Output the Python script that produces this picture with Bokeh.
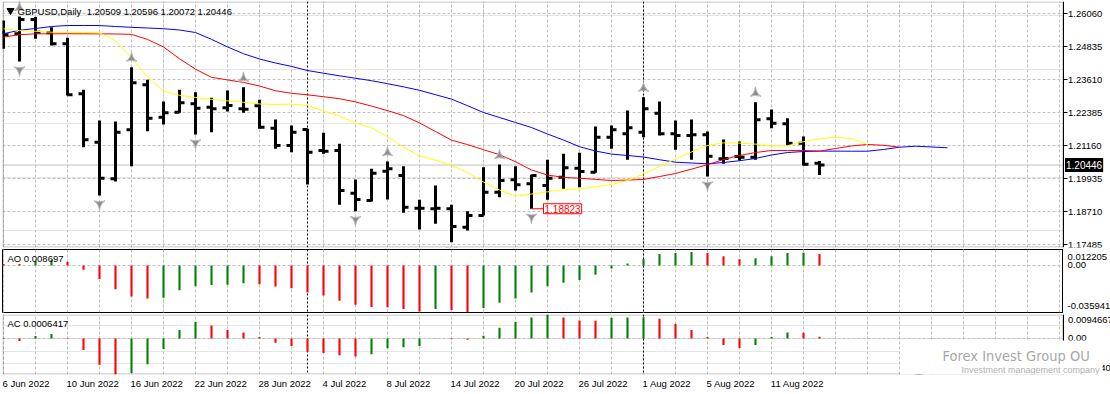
import numpy as np
from bokeh.plotting import figure
from bokeh.layouts import column
from bokeh.models import (ColumnDataSource, FixedTicker, PrintfTickFormatter, Span, Label,
                          Grid, BoxAnnotation, Range1d, LinearAxis)
from bokeh.embed import file_html
from bokeh.resources import INLINE

# ---------------- data ----------------
DATES = ["6 Jun 2022", "10 Jun 2022", "16 Jun 2022", "22 Jun 2022", "28 Jun 2022",
         "4 Jul 2022", "8 Jul 2022", "14 Jul 2022", "20 Jul 2022", "26 Jul 2022",
         "1 Aug 2022", "5 Aug 2022", "11 Aug 2022"]
DATE_BARS = [0, 4, 8, 12, 16, 20, 24, 28, 32, 36, 40, 44, 48]
SEPARATORS = [19, 40]          # 1 Jul 2022, 1 Aug 2022

OPEN = [1.25366, 1.25316, 1.25848, 1.25353, 1.24945, 1.23089, 1.21295, 1.19934, 1.21753, 1.23423,
        1.22223, 1.22408, 1.22718, 1.22594, 1.22569, 1.22532, 1.22643, 1.21814, 1.21171, 1.21765,
        1.20985, 1.20985, 1.19402, 1.19129, 1.20218, 1.20057, 1.18845, 1.18820, 1.18820, 1.18139,
        1.18573, 1.19439, 1.19896, 1.19748, 1.19686, 1.19995, 1.20330, 1.20181, 1.21480, 1.21604,
        1.21666, 1.22371, 1.21604, 1.21542, 1.21567, 1.20676, 1.20763, 1.20738, 1.22161, 1.21975,
        1.21258, 1.20509]
HIGH = [1.25811, 1.25960, 1.25940, 1.25564, 1.25168, 1.23237, 1.22099, 1.22062, 1.24079, 1.23609,
        1.22804, 1.23237, 1.23151, 1.22940, 1.23213, 1.23336, 1.22866, 1.22136, 1.21913, 1.21790,
        1.21641, 1.21233, 1.19909, 1.20305, 1.20577, 1.20404, 1.19154, 1.19686, 1.18968, 1.18733,
        1.20367, 1.20466, 1.20404, 1.20082, 1.20639, 1.20862, 1.20899, 1.21876, 1.21913, 1.22470,
        1.22965, 1.22804, 1.22099, 1.22136, 1.21691, 1.21394, 1.21319, 1.22780, 1.22507, 1.22186,
        1.21505, 1.20596]
LOW = [1.24759, 1.24289, 1.25131, 1.24883, 1.23027, 1.21109, 1.19315, 1.19835, 1.20404, 1.21703,
       1.21951, 1.22384, 1.21579, 1.21666, 1.22433, 1.22384, 1.21790, 1.21047, 1.20924, 1.19723,
       1.20862, 1.18968, 1.18733, 1.19092, 1.19166, 1.18671, 1.18053, 1.18263, 1.17583, 1.18016,
       1.18573, 1.19253, 1.19500, 1.18823, 1.19154, 1.19562, 1.19624, 1.20156, 1.21047, 1.20639,
       1.21480, 1.21542, 1.21010, 1.20639, 1.20020, 1.20490, 1.20614, 1.20639, 1.21814, 1.21171,
       1.20429, 1.20072]
CLOSE = [1.25279, 1.25848, 1.25378, 1.24945, 1.23052, 1.21381, 1.19958, 1.21666, 1.23497, 1.22186,
         1.22384, 1.22755, 1.22557, 1.22532, 1.22656, 1.22520, 1.21852, 1.21171, 1.21666, 1.20924,
         1.20961, 1.19500, 1.19166, 1.20144, 1.20305, 1.18882, 1.18840, 1.18845, 1.18164, 1.18573,
         1.19439, 1.19872, 1.19711, 1.20057, 1.19958, 1.20342, 1.20206, 1.21480, 1.21753, 1.21827,
         1.22532, 1.21604, 1.21542, 1.21567, 1.20775, 1.20690, 1.20738, 1.22124, 1.22000, 1.21258,
         1.20480, 1.20446]

JAW_BLUE = [1.25321, 1.25451, 1.25514, 1.25589, 1.25626, 1.25626, 1.25624, 1.25589, 1.25559, 1.25533,
            1.25507, 1.25459, 1.25366, 1.25113, 1.24831, 1.24579, 1.24382, 1.24234, 1.24107, 1.23955,
            1.23855, 1.23758, 1.23669, 1.23577, 1.23465, 1.23350, 1.23220, 1.23057, 1.22894, 1.22649,
            1.22396, 1.22211, 1.22025, 1.21839, 1.21598, 1.21375, 1.21127, 1.20967, 1.20852, 1.20800,
            1.20744, 1.20644, 1.20551, 1.20522, 1.20492, 1.20540, 1.20607, 1.20689, 1.20819, 1.20911,
            1.20948, 1.20963, 1.20963, 1.20960, 1.20960, 1.21023, 1.21108, 1.21145, 1.21116, 1.21086]
TEETH_RED = [1.25195, 1.25284, 1.25318, 1.25318, 1.25320, 1.25318, 1.25315, 1.25312, 1.25295, 1.25110,
             1.24828, 1.24393, 1.24004, 1.23703, 1.23606, 1.23514, 1.23380, 1.23205, 1.23109, 1.23053,
             1.22983, 1.22908, 1.22790, 1.22634, 1.22467, 1.22281, 1.22010, 1.21691, 1.21372, 1.21205,
             1.21015, 1.20830, 1.20570, 1.20262, 1.20076, 1.19987, 1.19957, 1.19913, 1.19872, 1.19887,
             1.19913, 1.20020, 1.20132, 1.20295, 1.20458, 1.20651, 1.20800, 1.20911, 1.20986, 1.20984,
             1.20988, 1.20960, 1.21060, 1.21156, 1.21208, 1.21179, 1.21108]
LIPS_YELLOW = [1.25503, 1.25436, 1.25410, 1.25377, 1.25375, 1.25366, 1.25355, 1.25069, 1.24416, 1.23721,
               1.23194, 1.23035, 1.22953, 1.22886, 1.22827, 1.22778, 1.22715, 1.22693, 1.22708, 1.22652,
               1.22459, 1.22270, 1.22003, 1.21828, 1.21498, 1.21116, 1.20781, 1.20626, 1.20440, 1.20165,
               1.19816, 1.19523, 1.19285, 1.19371, 1.19452, 1.19530, 1.19564, 1.19634, 1.19723, 1.19872,
               1.20113, 1.20392, 1.20666, 1.20934, 1.21171, 1.21268, 1.21260, 1.21223, 1.21153, 1.21160,
               1.21312, 1.21416, 1.21479, 1.21431, 1.21208]

UP_FRACTALS = [1, 8, 15, 24, 31, 40, 47]
DOWN_FRACTALS = [1, 6, 12, 22, 28, 33, 44]

AO = [0.0012, 0.0011, 0.0034, 0.0042, 0.0029, -0.0032, -0.0103, -0.0182, -0.0238, -0.0253,
      -0.0246, -0.0190, -0.0158, -0.0150, -0.0147, -0.0135, -0.0143, -0.0161, -0.0174, -0.0206,
      -0.0230, -0.0269, -0.0301, -0.0317, -0.0319, -0.0333, -0.0352, -0.0333, -0.0341, -0.035941,
      -0.0325, -0.0285, -0.0253, -0.0206, -0.0158, -0.0132, -0.0111, -0.0071, -0.0024, 0.0016,
      0.0048, 0.0087, 0.0095, 0.0103, 0.0095, 0.0071, 0.0048, 0.0055, 0.0071, 0.0095,
      0.0097, 0.008697]
AC = [0.0002, -0.0010, 0.0010, 0.0018, 0.0002, -0.0046, -0.0104, -0.01424, -0.0136, -0.0102,
      -0.0042, 0.0033, 0.0065, 0.0051, 0.0033, 0.0024, 0.0006, -0.0017, -0.0030, -0.0053,
      -0.0057, -0.0066, -0.0071, -0.0062, -0.0039, -0.0035, -0.0030, -0.0001, -0.0003, -0.0005,
      0.0011, 0.0042, 0.0065, 0.0083, 0.0094667, 0.0083, 0.0071, 0.0070, 0.0082, 0.0083,
      0.0084, 0.0078, 0.0057, 0.0033, 0.0006, -0.0026, -0.0038, -0.0026, 0.0006, 0.0024,
      0.0023, 0.0006417]

PRICE_TICKS = [1.26060, 1.24835, 1.23610, 1.22385, 1.21160, 1.19935, 1.18710, 1.17485]
AO_MAX, AO_MIN = 0.012205, -0.035941
AC_MAX, AC_MIN = 0.0094667, -0.01424
LAST_PRICE = 1.20446
LOW_MARK_BAR, LOW_MARK_PRICE = 33, 1.18823
HEADER = "GBPUSD,Daily\u00a0 1.20509 1.20596 1.20072 1.20446"
AO_TITLE = "AO 0.008697"
AC_TITLE = "AC 0.0006417"
BRAND = "Forex Invest Group OU"
BRAND_SUB = "Investment management company"

# ---------------- layout / style ----------------
FONT = "Liberation Sans"
FS = "9.5px"
GRID_C = "#c0c0c0"
GRID_D = "3 2"
LEFT = 2                 # frame left edge (px)
EDGE = 1062              # right border of the chart panels (px)
FW = EDGE - LEFT         # normal frame width
FW_EXT = 1110 - LEFT     # frame that also holds the price scale
S = 16.0                 # px per bar
X0 = -1 / S
XE = X0 + (EDGE - LEFT + 0.5) / S      # right border location in bar units
MAIN_TOP, MAIN_H = 1, 246
AO_TOP_PX, AO_H = 249, 63
AC_TOP_PX, AC_H = 314, 60
Y0, Y1 = 1.17385, 1.26517
YS = MAIN_H / (Y1 - Y0)
AOS = AO_H / (AO_MAX - AO_MIN)
ACS = AC_H / (AC_MAX - AC_MIN)
GREEN, RED = "#008000", "#ff0000"
GRID_BARS = list(range(0, 68, 2))


def dx(px):               # page px -> bar units
    return X0 + (px - LEFT) / S


def main_y(py):
    return Y1 - (py - MAIN_TOP) / YS


def ao_y(py):
    return AO_MAX - (py - AO_TOP_PX) / AOS


def ac_y(py):
    return AC_MAX - (py - AC_TOP_PX) / ACS


def style_axis(ax, tick_out, standoff):
    ax.axis_line_color = "black"
    ax.major_tick_line_color = "black"
    ax.major_tick_out = tick_out
    ax.major_tick_in = 0
    ax.minor_tick_out = 0
    ax.minor_tick_in = 0
    ax.major_label_text_font = FONT
    ax.major_label_text_font_size = FS
    ax.major_label_text_color = "black"
    ax.major_label_standoff = standoff


def panel(fh, y0, y1, ys, top, bottom, extended, xaxis, ticks, overrides, tick_out, standoff,
          grid_ticks):
    fw = FW_EXT if extended else FW
    f = figure(frame_width=fw, frame_height=fh, x_range=Range1d(X0, X0 + fw / S),
               y_range=Range1d(y0, y1),
               x_axis_location="below" if xaxis else None,
               y_axis_location=None if extended else "right",
               toolbar_location=None, tools="", output_backend="svg",
               min_border_left=LEFT, min_border_right=0 if extended else 48,
               min_border_top=top, min_border_bottom=bottom,
               background_fill_color="white", border_fill_color="white")
    if xaxis:
        f.xgrid.visible = False
    f.add_layout(Grid(dimension=0, ticker=FixedTicker(ticks=GRID_BARS),
                      grid_line_color=GRID_C, grid_line_dash=GRID_D))
    if extended:
        f.outline_line_color = None
        f.add_layout(Grid(dimension=1, ticker=FixedTicker(ticks=grid_ticks),
                          grid_line_color=GRID_C, grid_line_dash=GRID_D))
        ax = LinearAxis(fixed_location=XE, ticker=FixedTicker(ticks=ticks))
        f.add_layout(ax, "right")
    else:
        f.outline_line_color = "black"
        f.outline_line_alpha = 1.0
        f.outline_line_width = 1
        ax = f.yaxis[0]
        ax.ticker = FixedTicker(ticks=ticks)
        f.ygrid.ticker = FixedTicker(ticks=grid_ticks)
        f.ygrid.grid_line_color = GRID_C
        f.ygrid.grid_line_dash = GRID_D
    style_axis(ax, tick_out, standoff)
    if overrides is not None:
        ax.major_label_overrides = overrides
    for s in SEPARATORS:
        f.add_layout(Span(location=s, dimension="height", line_color="black",
                          line_dash="2 2", line_width=1, level="underlay"))
    return f, ax


def finish_extended(f, y0, y1, ys):
    # keep the scale column clean and draw the panel border up to the scale
    f.add_layout(BoxAnnotation(left=XE, fill_color="white", fill_alpha=1.0,
                               line_color=None, level="glyph"))
    f.add_layout(BoxAnnotation(left=X0 + 0.5 / S, right=XE, bottom=y0 + 0.5 / ys,
                               top=y1 - 0.5 / ys, fill_color=None, line_color="black",
                               line_width=1, level="overlay"))


def bar_colors(v):
    cols = [RED]
    for i in range(1, len(v)):
        cols.append(GREEN if v[i] > v[i - 1] else RED)
    return cols


# ---------------- main price panel ----------------
p, pax = panel(MAIN_H, Y0, Y1, YS, MAIN_TOP, 2, True, False, PRICE_TICKS, None, 4, 1,
               PRICE_TICKS)
pax.formatter = PrintfTickFormatter(format="%.5f")
p.add_layout(Span(location=LAST_PRICE, dimension="width", line_color="#c0c0c0",
                  line_width=1, level="underlay"))
finish_extended(p, Y0, Y1, YS)

idx = np.arange(len(OPEN))
T = 5 / S
src = ColumnDataSource(dict(x=idx, xl=idx - T, xr=idx + T, o=OPEN, h=HIGH, l=LOW, c=CLOSE))
p.segment("x", "l", "x", "h", source=src, line_color="black", line_width=3)
p.segment("xl", "o", "x", "o", source=src, line_color="black", line_width=3)
p.segment("x", "c", "xr", "c", source=src, line_color="black", line_width=3)

p.line(np.arange(len(JAW_BLUE)), JAW_BLUE, line_color="#0000ff", line_width=1)
p.line(np.arange(len(TEETH_RED)), TEETH_RED, line_color="#ff0000", line_width=1)
p.line(np.arange(len(LIPS_YELLOW)), LIPS_YELLOW, line_color="#ffff00", line_width=1)

up_y = [HIGH[i] + 9 / YS for i in UP_FRACTALS]
dn_y = [LOW[i] - 8.5 / YS for i in DOWN_FRACTALS]
p.scatter(UP_FRACTALS, up_y, marker="triangle_pin", size=11, fill_color="#8c8c8c",
          line_color="#b8b8c0", line_width=1)
p.scatter(DOWN_FRACTALS, dn_y, marker="triangle_pin", size=11, angle=np.pi,
          fill_color="#8c8c8c", line_color="#b8b8c0", line_width=1)

# low price marker
p.segment([LOW_MARK_BAR], [LOW_MARK_PRICE], [LOW_MARK_BAR + 12 / S], [LOW_MARK_PRICE],
          line_color="red", line_width=1)
p.add_layout(Label(x=LOW_MARK_BAR + 12 / S, y=LOW_MARK_PRICE, text=f"{LOW_MARK_PRICE:.5f}",
                   text_font=FONT, text_font_size="10px", text_color="red",
                   text_align="left", text_baseline="middle",
                   background_fill_color="white", border_line_color="red", padding=1))

# current price tag on the scale
p.add_layout(Label(x=XE, y=LAST_PRICE, x_offset=2, text=f"{LAST_PRICE:.5f}",
                   text_font=FONT, text_font_size="10px", text_color="white",
                   text_align="left", text_baseline="middle",
                   background_fill_color="black", padding=(1, 3)))

# header
p.scatter([dx(10)], [main_y(10)], marker="inverted_triangle", size=7,
          fill_color="black", line_color="black")
p.add_layout(Label(x=dx(17), y=main_y(10.5), text=HEADER, text_font=FONT,
                   text_font_size=FS, text_color="black", text_baseline="middle"))

# ---------------- AO panel ----------------
ao_ticks = [0.0063, 0.0, -0.0311]
a, aax = panel(AO_H, AO_MIN, AO_MAX, AOS, 0, 2, False, False, ao_ticks,
               {0.0063: f"{AO_MAX:.6f}", 0.0: "0.00", -0.0311: f"{AO_MIN:.6f}"}, 0, 5, [0.0])
a.vbar(x=np.arange(len(AO)), top=AO, bottom=0, width=0.13,
       fill_color=bar_colors(AO), line_color=None)
a.add_layout(Label(x=dx(7), y=ao_y(258.3), text=AO_TITLE, text_font=FONT,
                   text_font_size=FS, text_color="black", text_baseline="middle"))

# ---------------- AC panel ----------------
ac_top_tick = round(AC_MAX - 5.3 / ACS, 4)
ac_bot_tick = round(AC_MIN + 7.0 / ACS, 4)
ac_ticks = [ac_top_tick, 0.0, ac_bot_tick]
c, cax = panel(AC_H, AC_MIN, AC_MAX, ACS, 0, 20, True, True, ac_ticks,
               {ac_top_tick: f"{AC_MAX:.7f}", 0.0: "0.00", ac_bot_tick: f"{AC_MIN:.7f}"},
               0, 5, [0.0])
finish_extended(c, AC_MIN, AC_MAX, ACS)
c.vbar(x=np.arange(len(AC)), top=AC, bottom=0, width=0.13,
       fill_color=bar_colors(AC), line_color=None)
c.add_layout(Label(x=dx(7), y=ac_y(323.3), text=AC_TITLE, text_font=FONT,
                   text_font_size=FS, text_color="black", text_baseline="middle"))

# date axis: labels start at their bar (MT4 style), so shift each tick by half its width
CW = {" ": 0.278, "J": 0.5, "u": 0.556, "n": 0.556, "l": 0.222, "A": 0.667, "g": 0.556}


def text_w(s, fs):
    return sum(CW.get(ch, 0.556) for ch in s) * fs


date_ticks = [k + (text_w(d, 9.5) / 2 - 1) / S for k, d in zip(DATE_BARS, DATES)]
xa = c.xaxis[0]
xa.ticker = FixedTicker(ticks=date_ticks)
xa.major_label_overrides = dict(zip(date_ticks, DATES))
xa.major_label_text_font = FONT
xa.major_label_text_font_size = FS
xa.major_label_text_color = "black"
xa.major_label_standoff = 3
xa.axis_line_color = None
xa.major_tick_out = 0
xa.major_tick_in = 0
xa.minor_tick_out = 0
xa.minor_tick_in = 0

# watermark
c.add_layout(BoxAnnotation(left=dx(900), right=dx(1102), top=ac_y(340), fill_color="white",
                           fill_alpha=1.0, line_color=None, level="overlay"))
lx, ly = dx(918), ac_y(359)
c.scatter([lx], [ly], marker="circle", size=31, fill_color="#f6ecec", line_color=None,
          level="overlay")
c.annular_wedge([lx], [ly], inner_radius=9, outer_radius=15.5, start_angle=0.35, end_angle=3.5,
                inner_radius_units="screen", outer_radius_units="screen",
                fill_color="#e39a9a", fill_alpha=0.9, line_color=None, level="overlay")
c.annular_wedge([lx], [ly], inner_radius=10, outer_radius=15.5, start_angle=3.5, end_angle=6.63,
                inner_radius_units="screen", outer_radius_units="screen",
                fill_color="#a0a0a0", fill_alpha=0.9, line_color=None, level="overlay")
c.add_layout(Label(x=dx(942), y=ac_y(355), text=BRAND,
                   text_font="DejaVu Sans Condensed, Liberation Sans", text_font_size="14.5px",
                   text_color="#a8a8a8", text_baseline="middle", level="overlay"))
c.add_layout(Label(x=dx(961), y=ac_y(369), text=BRAND_SUB,
                   text_font=FONT, text_font_size="9px", text_color="#b0b0b0",
                   text_baseline="middle", level="overlay"))

layout = column(p, a, c, spacing=0)
open("out.html", "w").write(file_html(layout, INLINE, title="GBPUSD Daily"))
